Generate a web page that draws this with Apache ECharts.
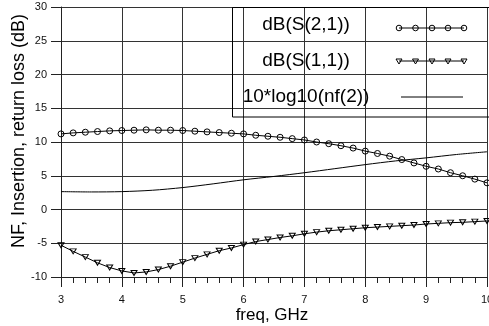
<!DOCTYPE html>
<html>
<head>
<meta charset="utf-8">
<script src="https://cdn.jsdelivr.net/npm/echarts@6/dist/echarts.min.js"></script>
<style>
html,body{margin:0;padding:0;background:#fff;}
#c{width:489px;height:326px;}
</style>
</head>
<body>
<div id="c"></div>
<script>
// ---- data ----
var freq = [3.0,3.2,3.4,3.6,3.8,4.0,4.2,4.4,4.6,4.8,5.0,5.2,5.4,5.6,5.8,6.0,6.2,6.4,6.6,6.8,
            7.0,7.2,7.4,7.6,7.8,8.0,8.2,8.4,8.6,8.8,9.0,9.2,9.4,9.6,9.8,10.0];
var s21 = [11.2,11.35,11.45,11.55,11.65,11.7,11.75,11.8,11.75,11.75,11.7,11.6,11.5,11.4,11.3,11.2,
           11.0,10.85,10.7,10.5,10.3,10.0,9.75,9.45,9.1,8.65,8.3,7.9,7.4,6.9,6.4,6.0,5.45,5.0,4.5,3.95];
var s11 = [-5.3,-6.2,-7.05,-7.9,-8.6,-9.1,-9.4,-9.25,-8.9,-8.4,-7.8,-7.2,-6.65,-6.1,-5.7,-5.2,
           -4.75,-4.45,-4.15,-3.9,-3.6,-3.35,-3.15,-3.0,-2.85,-2.7,-2.6,-2.5,-2.4,-2.3,-2.15,-2.05,-1.95,-1.9,-1.8,-1.7];
var nfFreq = [3.0,3.5,4.0,4.5,5.0,5.5,6.0,6.5,7.0,7.5,8.0,8.5,9.0,9.5,10.0];
var nf = [2.65,2.6,2.65,2.85,3.25,3.8,4.4,4.9,5.45,6.05,6.65,7.2,7.65,8.15,8.55];
var legendNames = ['dB(S(2,1))','dB(S(1,1))','10*log10(nf(2))'];
var xTitle = 'freq, GHz';
var yTitle = 'NF, Insertion, return loss (dB)';

function pairs(xs, ys){ return xs.map(function(x,i){ return [x, ys[i]]; }); }

var FONT = '"Liberation Sans", Arial, sans-serif';
var chart = echarts.init(document.getElementById('c'), null, {renderer:'canvas'});

// legend box (drawn as graphics) and axis titles
var lg = [];
lg.push({type:'rect', shape:{x:232.5, y:7.5, width:270, height:109.5},
         style:{fill:'none', stroke:'#000', lineWidth:1}, z:100});
var rowY = [25, 61, 97];
var sampleY = [28, 61, 97];
legendNames.forEach(function(n, i){
  lg.push({type:'text', x:306, y:rowY[i], z:100,
    style:{text:n, font:'19px ' + FONT, fill:'#000', align:'center', verticalAlign:'middle'}});
});
var sx = [399, 415.5, 432, 448, 464];
lg.push({type:'line', shape:{x1:399, y1:sampleY[0], x2:464, y2:sampleY[0]}, style:{stroke:'#000', lineWidth:1}, z:100});
sx.forEach(function(x){
  lg.push({type:'circle', shape:{cx:x, cy:sampleY[0], r:2.8}, style:{fill:'none', stroke:'#000', lineWidth:1}, z:101});
});
lg.push({type:'line', shape:{x1:399, y1:sampleY[1], x2:464, y2:sampleY[1]}, style:{stroke:'#000', lineWidth:1}, z:100});
sx.forEach(function(x){
  lg.push({type:'polygon', shape:{points:[[x-3,sampleY[1]-2],[x+3,sampleY[1]-2],[x,sampleY[1]+3]]},
           style:{fill:'none', stroke:'#000', lineWidth:1}, z:101});
});
lg.push({type:'line', shape:{x1:401, y1:sampleY[2], x2:463, y2:sampleY[2]}, style:{stroke:'#000', lineWidth:1}, z:100});
lg.push({type:'text', x:19, y:131, rotation:Math.PI/2, z:100,
  style:{text:yTitle, font:'18px ' + FONT, fill:'#000', align:'center', verticalAlign:'middle'}});
lg.push({type:'text', x:272, y:315, z:100,
  style:{text:xTitle, font:'17px ' + FONT, fill:'#000', align:'center', verticalAlign:'middle'}});

var option = {
  animation:false,
  grid:{left:61, right:2, top:7, bottom:49, outerBoundsMode:'none', containLabel:false},
  xAxis:{
    type:'value', min:3, max:10, interval:1,
    axisLine:{show:true, onZero:false, lineStyle:{color:'#222', width:1}},
    axisTick:{show:true, length:10, inside:false, lineStyle:{color:'#222'}},
    minorTick:{show:true, splitNumber:5, length:6, lineStyle:{color:'#222'}},
    splitLine:{show:true, lineStyle:{color:'#333', width:1}},
    axisLabel:{fontSize:11, fontFamily:FONT, color:'#111', margin:17}
  },
  yAxis:{
    type:'value', min:-10, max:30, interval:5,
    axisLine:{show:true, onZero:false, lineStyle:{color:'#222', width:1}},
    axisTick:{show:true, length:10, inside:false, lineStyle:{color:'#222'}},
    splitLine:{show:true, lineStyle:{color:'#333', width:1}},
    axisLabel:{fontSize:11, fontFamily:FONT, color:'#111', margin:14}
  },
  series:[
    {name:legendNames[0], type:'line', data:pairs(freq, s21), symbol:'circle', symbolSize:6,
     lineStyle:{color:'#000', width:1}, itemStyle:{color:'rgba(0,0,0,0)', borderColor:'#000', borderWidth:1}},
    {name:legendNames[1], type:'line', data:pairs(freq, s11), symbol:'triangle', symbolRotate:180, symbolSize:[6,5],
     lineStyle:{color:'#000', width:1}, itemStyle:{color:'rgba(0,0,0,0)', borderColor:'#000', borderWidth:1}},
    {name:legendNames[2], type:'line', data:pairs(nfFreq, nf), symbol:'none', smooth:0.3,
     lineStyle:{color:'#000', width:1}}
  ],
  graphic:lg
};
chart.setOption(option);
</script>
</body>
</html>
